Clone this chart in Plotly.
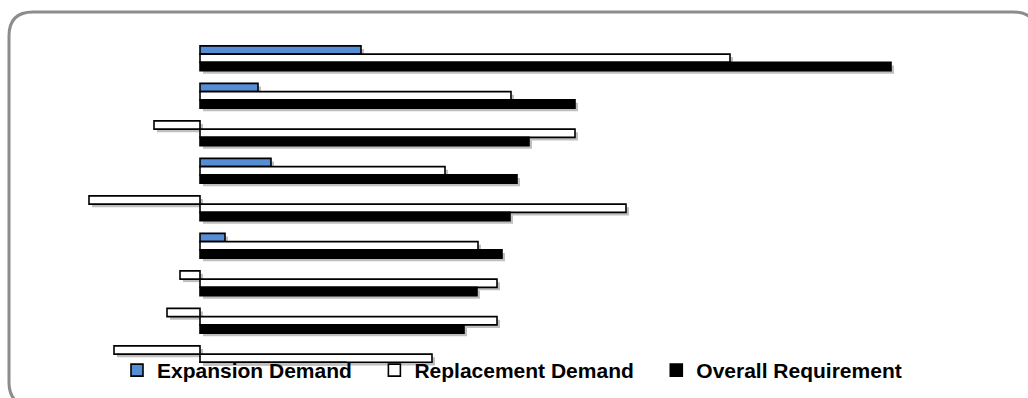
import plotly.graph_objects as go

# Workforce demand by group (units: thousands)
categories = ["Group 1", "Group 2", "Group 3", "Group 4", "Group 5",
              "Group 6", "Group 7", "Group 8", "Group 9"]
expansion = [16.1, 5.8, -4.6, 7.1, -11.1, 2.5, -2.0, -3.3, -8.6]
replacement = [53.0, 31.1, 37.5, 24.5, 42.6, 27.8, 29.7, 29.7, 23.2]
overall = [69.1, 37.5, 32.9, 31.7, 31.0, 30.2, 27.7, 26.4, 14.6]
series_names = ["Expansion Demand", "Replacement Demand", "Overall Requirement"]

BLUE = "#558ED5"
FIG_W, FIG_H = 1028, 398
ML, MR, MT, MB = 50, 25, 39, 6
PW, PH = FIG_W - ML - MR, FIG_H - MT - MB
# category slots run from TOP to FULL_BOTTOM; the plot area ends at CLIP,
# just above the legend row
BAR_LEFT, BAR_RIGHT = 50, 1000
BAR_TOP, FULL_BOTTOM, CLIP = 39.5, 377, 363
SHIFT = 3  # drop-shadow offset in px

slot = (FULL_BOTTOM - BAR_TOP) / len(categories)
y_bottom_val = -0.5 + (CLIP - BAR_TOP) / slot


def dom_x(a, b):
    return [(a - ML) / PW, (b - ML) / PW]


def dom_y(top, bottom):
    return [1 - (bottom - MT) / PH, 1 - (top - MT) / PH]


# negative expansion bars are drawn hollow (inverted fill)
exp_colors = [BLUE if v >= 0 else "white" for v in expansion]
fills = [exp_colors, "white", "black"]
values = [expansion, replacement, overall]

fig = go.Figure()

# soft drop shadows on a subplot shifted right/down by a few pixels
for vals in values:
    fig.add_trace(go.Bar(
        y=categories, x=vals, orientation="h",
        marker=dict(color="rgba(0,0,0,0.25)", line=dict(width=0)),
        xaxis="x", yaxis="y", showlegend=False, hoverinfo="skip",
    ))

# legend labels carry a little trailing space to widen the entry gap
for name, vals, fill in zip(series_names, values, fills):
    fig.add_trace(go.Bar(
        y=categories, x=vals, orientation="h", name=name + "\u00a0\u00a0\u00a0",
        marker=dict(color=fill, line=dict(color="black", width=1.6)),
        xaxis="x2", yaxis="y2",
    ))

xr = [-15, 80]
yr = [y_bottom_val, -0.5]
axis_common = dict(visible=False, showgrid=False, zeroline=False, fixedrange=True)

fig.update_layout(
    width=FIG_W, height=FIG_H,
    margin=dict(l=ML, r=MR, t=MT, b=MB, autoexpand=False),
    paper_bgcolor="white", plot_bgcolor="rgba(0,0,0,0)",
    barmode="group", bargap=0.34, bargroupgap=0,
    xaxis=dict(range=xr, domain=dom_x(BAR_LEFT + SHIFT, BAR_RIGHT + SHIFT),
               anchor="y", **axis_common),
    yaxis=dict(range=yr, domain=dom_y(BAR_TOP + SHIFT, CLIP + SHIFT),
               anchor="x", type="category", **axis_common),
    xaxis2=dict(range=xr, domain=dom_x(BAR_LEFT, BAR_RIGHT), anchor="y2", **axis_common),
    yaxis2=dict(range=yr, domain=dom_y(BAR_TOP, CLIP), anchor="x2",
                type="category", **axis_common),
    legend=dict(
        orientation="h", xref="container", x=117 / FIG_W, xanchor="left",
        yref="container", y=1 - 350 / FIG_H, yanchor="top",
        bgcolor="rgba(0,0,0,0)", borderwidth=0,
        font=dict(family="Liberation Sans, Arial, sans-serif", size=21,
                  color="black", weight="bold"),
        traceorder="normal",
    ),
    showlegend=True,
)


def px_to_paper(px, py):
    return (px - ML) / PW, 1 - (py - MT) / PH


# rounded chart frame
x0, y0, x1, y1, r = 9, 12, 1037, 406, 24
pts = {
    "a": px_to_paper(x0 + r, y0), "b": px_to_paper(x1 - r, y0),
    "c": px_to_paper(x1, y0), "d": px_to_paper(x1, y0 + r),
    "e": px_to_paper(x1, y1 - r), "f": px_to_paper(x1, y1),
    "g": px_to_paper(x1 - r, y1), "h": px_to_paper(x0 + r, y1),
    "i": px_to_paper(x0, y1), "j": px_to_paper(x0, y1 - r),
    "k": px_to_paper(x0, y0 + r), "l": px_to_paper(x0, y0),
}
p = {k: f"{v[0]:.5f},{v[1]:.5f}" for k, v in pts.items()}
path = (f"M{p['a']} L{p['b']} Q{p['c']} {p['d']} L{p['e']} Q{p['f']} {p['g']} "
        f"L{p['h']} Q{p['i']} {p['j']} L{p['k']} Q{p['l']} {p['a']} Z")
fig.add_shape(type="path", path=path, xref="paper", yref="paper",
              line=dict(color="#8c8c8c", width=3), layer="below")

fig.write_html("out.html")
